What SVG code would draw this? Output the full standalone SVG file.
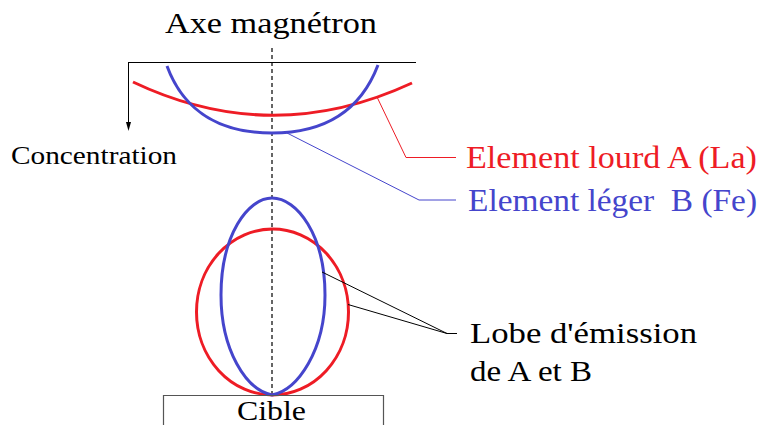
<svg xmlns="http://www.w3.org/2000/svg" width="761" height="425" viewBox="0 0 761 425">
<defs>
<style>
.t{font-family:"Liberation Serif","Times New Roman",serif;}
.red{stroke:#ee1c25;fill:none;stroke-width:3;}
.blue{stroke:#4545cc;fill:none;stroke-width:3;}
.thin{fill:none;stroke-width:1;}
</style>
</defs>
<rect width="761" height="425" fill="#fff"/>
<g id="axis">
<line x1="272" y1="48" x2="272" y2="396" stroke="#333" stroke-width="1.5" stroke-dasharray="4,3"/>
<text class="t" x="271" y="33" font-size="30" text-anchor="middle" textLength="212" lengthAdjust="spacingAndGlyphs">Axe magnétron</text>
</g>
<g id="concentration-axes">
<line x1="128" y1="62.5" x2="416" y2="62.5" stroke="#000" stroke-width="1"/>
<path d="M128.5,62 L128.5,122" stroke="#000" stroke-width="1" fill="none"/>
<path d="M126,122 L128.5,131 L131,122 Z" fill="#000"/>
<text class="t" x="11" y="164" font-size="25" textLength="166" lengthAdjust="spacingAndGlyphs">Concentration</text>
</g>
<g id="curve-A">
<path class="red" d="M133,82 Q272,148 412,83"/>
</g>
<g id="curve-B">
<path class="blue" d="M167,66 C185,115 225,133 272,133 C319,133 359,115 378,65"/>
</g>
<g id="lobe-A">
<ellipse class="red" cx="272.5" cy="312" rx="76" ry="83"/>
</g>
<g id="lobe-B">
<path class="blue" d="M272,395 C246,390 221,350 221,295 C221,235 248,198 272,198 C297,198 325,235 325,295 C325,350 298,390 272,395 Z"/>
</g>
<g id="cible">
<path d="M163.5,425 L163.5,395.5 L383.5,395.5 L383.5,425" stroke="#555" stroke-width="1.2" fill="none"/>
<text class="t" x="237" y="420" font-size="28" textLength="69" lengthAdjust="spacingAndGlyphs">Cible</text>
</g>
<g id="label-A">
<text class="t" x="466" y="168" font-size="31" fill="#ee1c25" textLength="291" lengthAdjust="spacingAndGlyphs">Element lourd A (La)</text>
</g>
<g id="label-B">
<text class="t" x="468" y="211" font-size="31" fill="#4545cc" textLength="289" lengthAdjust="spacingAndGlyphs" style="white-space:pre">Element léger  B (Fe)</text>
</g>
<g id="label-lobes">
<text class="t" x="470" y="343" font-size="30" textLength="227" lengthAdjust="spacingAndGlyphs">Lobe d'émission</text>
<text class="t" x="470" y="381" font-size="30" textLength="122" lengthAdjust="spacingAndGlyphs">de A et B</text>
</g>
<g id="connectors">
<polyline class="thin" stroke="#ee1c25" points="377,97 406,157.5 456,157.5"/>
<polyline class="thin" stroke="#4545cc" points="287,133 419,200 456,200"/>
<polyline class="thin" stroke="#000" points="322,272 447,333.5 457,333.5"/>
<polyline class="thin" stroke="#000" points="348,304.5 447,333.5"/>
</g>
</svg>
